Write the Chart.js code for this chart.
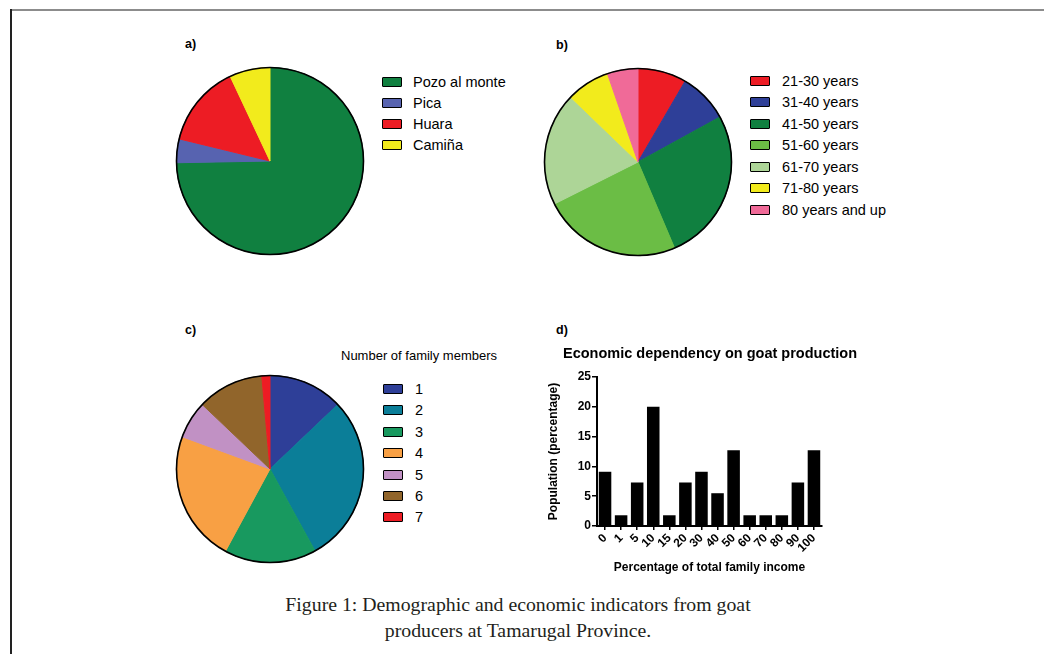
<!DOCTYPE html>
<html>
<head>
<meta charset="utf-8">
<script src="https://cdn.jsdelivr.net/npm/chart.js@4.4.1/dist/chart.umd.min.js"></script>
<style>
  body { margin: 0; background: #fff; }
  #page { position: relative; width: 1044px; height: 654px; overflow: hidden;
          font-family: "Liberation Sans", Arial, sans-serif; color: #000; }
  .abs { position: absolute; }
  .frameTop { left: 10px; top: 9px; width: 1034px; height: 2px; background: #8c8c8c; }
  .frameLeft { left: 10px; top: 9px; width: 1.5px; height: 645px; background: #222; }
  .lbl { font-weight: bold; font-size: 12.5px; line-height: 14px; }
  .row { position: absolute; height: 20px; line-height: 20px; font-size: 14.5px; white-space: nowrap; }
  .box { position: absolute; left: 0; top: 5px; width: 20px; height: 10px; box-sizing: border-box;
         border: 1.5px solid #000; border-radius: 1px; }
  .txt { position: absolute; top: 0; }
  .dtitle { left: 540px; top: 345px; width: 340px; text-align: center; font-weight: bold; font-size: 14.5px;
            line-height: 17px; white-space: nowrap; }
  .caption { left: 0; top: 592px; width: 1036px; text-align: center; font-family: "Liberation Serif", "DejaVu Serif", serif;
             font-size: 19.8px; line-height: 25.7px; color: #231f20; }
</style>
</head>
<body>
<div id="page">
  <div class="abs frameTop"></div>
  <div class="abs frameLeft"></div>

  <div class="abs lbl" style="left:185px;top:37px">a)</div>
  <div class="abs lbl" style="left:556px;top:38px">b)</div>
  <div class="abs lbl" style="left:185px;top:323px">c)</div>
  <div class="abs lbl" style="left:556px;top:323px">d)</div>

  <canvas id="pieA" class="abs" width="200" height="200" style="left:170px;top:61px"></canvas>
  <canvas id="pieB" class="abs" width="200" height="200" style="left:538px;top:62px"></canvas>
  <canvas id="pieC" class="abs" width="200" height="200" style="left:170px;top:369px"></canvas>
  <canvas id="barD" class="abs" width="300" height="245" style="left:540px;top:340px"></canvas>

  <div class="abs" style="left:341px;top:347px;font-size:13px;line-height:18px;white-space:nowrap">Number of family members</div>
  <div class="abs dtitle">Economic dependency on goat production</div>

  <div id="legA"></div>
  <div id="legB"></div>
  <div id="legC"></div>

  <div class="abs caption">Figure 1: Demographic and economic indicators from goat<br>producers at Tamarugal Province.</div>
</div>

<script>
// a) location of producers
const locationLabels = ['Pozo al monte', 'Pica', 'Huara', 'Camiña'];
const locationPct = [74.7, 4.1, 14.2, 7.0];

// b) age of producers
const ageLabels = ['21-30 years', '31-40 years', '41-50 years', '51-60 years', '61-70 years', '71-80 years', '80 years and up'];
const agePct = [8.4, 8.6, 26.6, 24.0, 19.6, 7.5, 5.3];

// c) family size
const familyLabels = ['1', '2', '3', '4', '5', '6', '7'];
const familyPct = [12.9, 29.1, 15.9, 22.7, 6.5, 11.5, 1.4];

// d) economic dependency
const incomeShare = ['0', '1', '5', '10', '15', '20', '30', '40', '50', '60', '70', '80', '90', '100'];
const populationPct = [9.1, 1.8, 7.3, 20, 1.8, 7.3, 9.1, 5.5, 12.7, 1.8, 1.8, 1.8, 7.3, 12.7];
const yTicks = [0, 5, 10, 15, 20, 25];

const locationColors = ['#108040', '#5763b0', '#ed1c24', '#f2eb1c'];
const ageColors = ['#ed1c24', '#2e3f98', '#108040', '#6bbd45', '#add597', '#f2eb1c', '#f06a98'];
const familyColors = ['#2e3f98', '#0b7e98', '#18995f', '#f8a044', '#c191c4', '#91652b', '#ed1c24'];

Chart.defaults.font.family = '"Liberation Sans", Arial, sans-serif';
Chart.defaults.color = '#000';

// black ring round the pie, no lines between slices
const outline = {
  id: 'outline',
  afterDatasetsDraw(chart) {
    const arc = chart.getDatasetMeta(0).data[0];
    const ctx = chart.ctx;
    ctx.save();
    ctx.beginPath();
    ctx.arc(arc.x, arc.y, arc.outerRadius, 0, Math.PI * 2);
    ctx.lineWidth = 1.6;
    ctx.strokeStyle = '#000';
    ctx.stroke();
    ctx.restore();
  }
};

function makePie(id, labels, values, colors) {
  return new Chart(document.getElementById(id), {
    type: 'pie',
    data: {
      labels: labels,
      datasets: [{
        data: values,
        backgroundColor: colors,
        borderColor: colors,
        borderWidth: 1,
        hoverBorderWidth: 0,
        hoverOffset: 0
      }]
    },
    options: {
      responsive: false, animation: false, events: [],
      layout: { padding: 6 },
      plugins: { legend: { display: false }, tooltip: { enabled: false } }
    },
    plugins: [outline]
  });
}

function makeLegend(id, labels, colors, boxX, textX, y0, dy) {
  const host = document.getElementById(id);
  labels.forEach((lab, i) => {
    const row = document.createElement('div');
    row.className = 'row';
    row.style.left = boxX + 'px';
    row.style.top = (y0 + dy * i - 10) + 'px';
    const box = document.createElement('span');
    box.className = 'box';
    box.style.background = colors[i];
    const txt = document.createElement('span');
    txt.className = 'txt';
    txt.style.left = (textX - boxX) + 'px';
    txt.textContent = lab;
    row.appendChild(box);
    row.appendChild(txt);
    host.appendChild(row);
  });
}

makePie('pieA', locationLabels, locationPct, locationColors);
makePie('pieB', ageLabels, agePct, ageColors);
makePie('pieC', familyLabels, familyPct, familyColors);

makeLegend('legA', locationLabels, locationColors, 382, 413, 81.5, 21.1);
makeLegend('legB', ageLabels, ageColors, 750, 782, 80.7, 21.55);
makeLegend('legC', familyLabels, familyColors, 383, 415, 389, 21.4);

new Chart(document.getElementById('barD'), {
  type: 'bar',
  data: {
    labels: incomeShare,
    datasets: [{
      data: populationPct,
      backgroundColor: '#000',
      borderWidth: 0,
      barPercentage: 0.78,
      categoryPercentage: 1
    }]
  },
  options: {
    responsive: false, animation: false, events: [],
    layout: { padding: { left: 0, right: 18, top: 37, bottom: 0 } },
    plugins: {
      legend: { display: false },
      tooltip: { enabled: false },
      title: { display: false }
    },
    scales: {
      x: {
        grid: { offset: false, drawOnChartArea: false, drawTicks: true, tickLength: 4, color: '#000', lineWidth: 1.5 },
        border: { color: '#000', width: 2 },
        ticks: { color: '#000', font: { size: 12, weight: 'bold' }, minRotation: 45, maxRotation: 45, autoSkip: false, padding: 1 },
        title: {
          display: true, text: 'Percentage of total family income', color: '#000',
          font: { size: 12, weight: 'bold' }, padding: { top: 4, bottom: 10 }
        },
        afterFit(s) { s.height = 59; }
      },
      y: {
        min: 0, max: 25,
        afterBuildTicks(s) { s.ticks = yTicks.map(v => ({ value: v })); },
        ticks: { color: '#000', font: { size: 12, weight: 'bold' }, padding: 1 },
        grid: { drawOnChartArea: false, tickLength: 5, color: '#000', lineWidth: 1.5 },
        border: { color: '#000', width: 2 },
        title: {
          display: true, text: 'Population (percentage)', color: '#000',
          font: { size: 12, weight: 'bold' }, padding: { top: 6, bottom: 4 }
        },
        afterFit(s) { s.width = 57; }
      }
    }
  }
});
</script>
</body>
</html>
